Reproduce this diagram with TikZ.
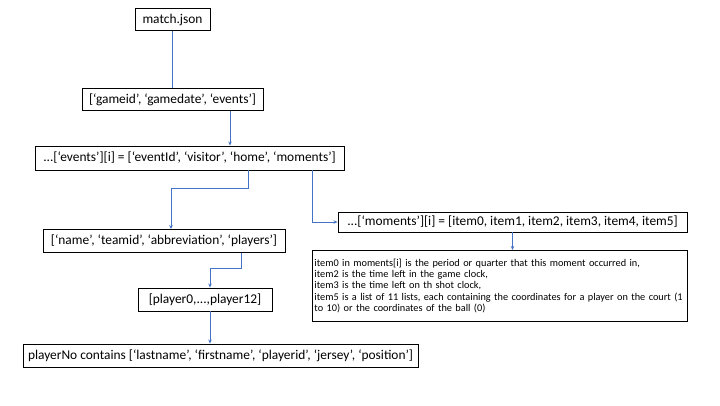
\documentclass[tikz,border=0pt]{standalone}
\usepackage{fontspec}
\setmainfont{Carlito}
\usetikzlibrary{arrows.meta}
\definecolor{linkblue}{RGB}{68,114,196}

\begin{document}
\begin{tikzpicture}[x=1pt, y=-1pt,
      box/.style = {shape=rectangle, draw, line width=0.9pt, inner sep=2pt,
        font=\fontsize{13.4}{16}\selectfont, minimum height=22pt},
      conn/.style = {draw=linkblue, line width=0.8pt},
      arr/.style = {conn, -{Stealth[length=4pt, width=3.5pt]}}]
  \useasboundingbox (0,0) rectangle (720,405);
  \node[box, minimum width=75pt] (match) at (172.5,19.5) {match.json};
  \node[box, minimum width=181pt] (game) at (172.5,99.5) {[‘gameid’, ‘gamedate’, ‘events’]};
  \node[box, minimum width=309pt, minimum height=24pt] (events) at (189.5,158)
    {...[‘events’][i] = [‘eventId’, ‘visitor’, ‘home’, ‘moments’]};
  \node[box, minimum width=242pt, minimum height=23pt] (name) at (164,241)
    {[‘name’, ‘teamid’, ‘abbreviation’, ‘players’]};
  \node[box, minimum width=134pt, minimum height=23pt] (players) at (205,299.5)
    {[player0,...,player12]};
  \node[box, minimum width=395pt, minimum height=23pt] (player) at (220.5,355.5)
    {playerNo contains [‘lastname’, ‘firstname’, ‘playerid’, ‘jersey’, ‘position’]};
  \node[box, minimum width=349pt, minimum height=20pt] (moments) at (512.5,222)
    {...[‘moments’][i] = [item0, item1, item2, item3, item4, item5]};
  \node[box, anchor=north west, minimum width=375pt, minimum height=71pt,
        text width=371pt, inner xsep=2pt, align=left, font=\fontsize{10.3}{11.3}\selectfont] (items) at (312,250)
    {item0 in moments[i] is the period or quarter that this moment occurred in,\\
     item2 is the time left in the game clock,\\
     item3 is the time left on th shot clock,\\
     item5 is a list of 11 lists, each containing the coordinates for a player on the court (1\\
     to 10) or the coordinates of the ball (0)};

  \draw[conn] (match.south) -- (game.north);
  \draw[arr] ([xshift=57.5pt]game.south) -- ([xshift=57.5pt]game.south |- events.north);
  \draw[arr] ([xshift=58.5pt]events.south) -- ++(0,18) -| ([xshift=7pt]name.north);
  \draw[arr] ([xshift=123pt]events.south) |- (moments.west);
  \draw[arr] (moments.south) -- (moments.south |- items.north);
  \draw[arr] ([xshift=77pt]name.south) -- ++(0,15) -| ([xshift=5pt]players.north);
  \draw[arr] ([xshift=5pt]players.south) -- ([xshift=5pt]players.south |- player.north);
\end{tikzpicture}
\end{document}
